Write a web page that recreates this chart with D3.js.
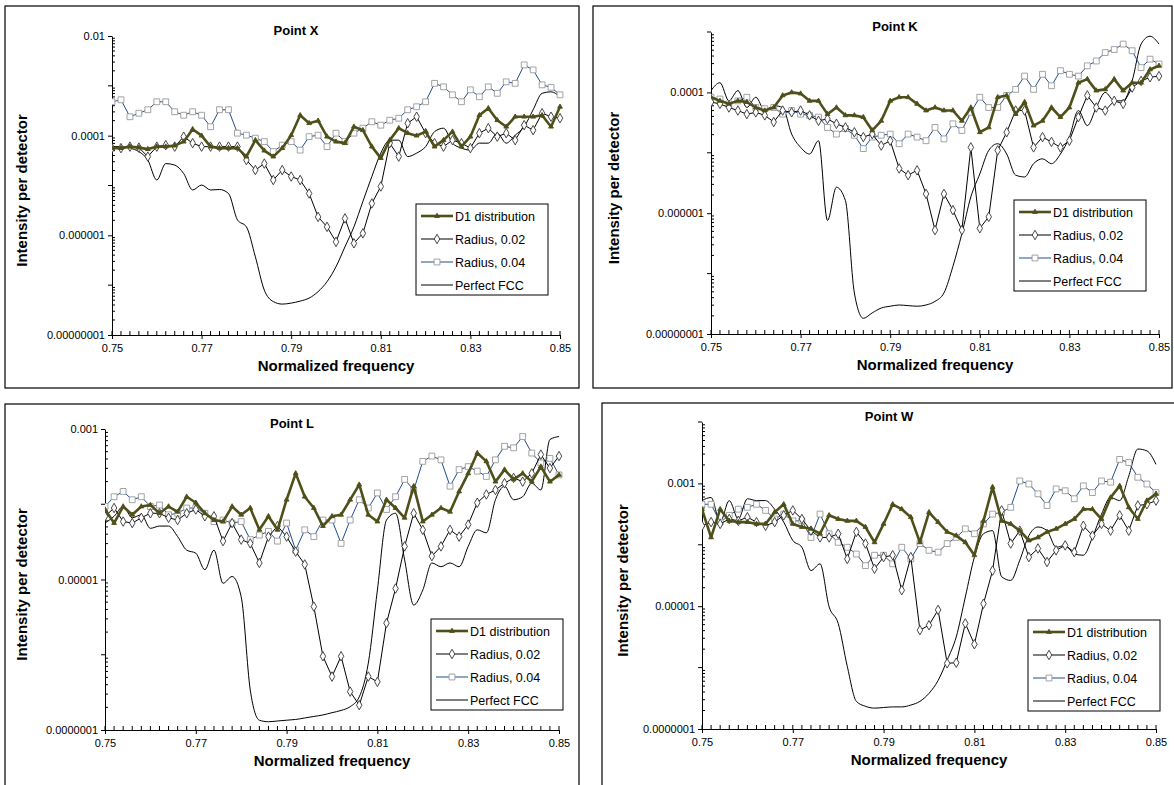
<!DOCTYPE html>
<html>
<head>
<meta charset="utf-8">
<script src="https://cdn.jsdelivr.net/npm/d3@7"></script>
<style>
  body { margin: 0; background: #fff; }
  svg { font-family: "Liberation Sans", Arial, sans-serif; }
</style>
</head>
<body>
<svg id="chart" width="1174" height="785"></svg>
<script>
// normalized frequency grid
const freq = [0.750,0.752,0.754,0.756,0.758,0.760,0.762,0.764,0.766,0.768,
  0.770,0.772,0.774,0.776,0.778,0.780,0.782,0.784,0.786,0.788,
  0.790,0.792,0.794,0.796,0.798,0.800,0.802,0.804,0.806,0.808,
  0.810,0.812,0.814,0.816,0.818,0.820,0.822,0.824,0.826,0.828,
  0.830,0.832,0.834,0.836,0.838,0.840,0.842,0.844,0.846,0.848,0.850];
const xTicks = [0.75, 0.77, 0.79, 0.81, 0.83, 0.85];
const seriesNames = ['D1 distribution', 'Radius, 0.02', 'Radius, 0.04', 'Perfect FCC'];

// values stored as log10(intensity per detector)
const xD1 = [-4.25,-4.25,-4.22,-4.24,-4.27,-4.22,-4.22,-4.2,-4.12,-3.87,-4.0,-4.22,-4.25,-4.25,-4.25,-4.42,-4.09,-4.3,-4.42,-4.25,
  -3.99,-3.59,-3.75,-3.7,-4.02,-4.12,-4.15,-3.82,-3.89,-4.22,-4.45,-4.09,-3.85,-3.95,-4.0,-3.92,-4.22,-4.09,-3.92,-4.22,
  -4.02,-3.59,-3.45,-3.69,-3.82,-3.62,-3.62,-3.62,-3.59,-3.82,-3.42];
const xR02 = [-4.25,-4.25,-4.22,-4.24,-4.42,-4.22,-4.19,-4.22,-4.02,-4.15,-4.22,-4.22,-4.22,-4.22,-4.22,-4.49,-4.69,-4.56,-4.89,-4.69,
  -4.82,-4.89,-5.16,-5.63,-5.83,-6.13,-5.66,-6.16,-5.96,-5.36,-5.02,-4.15,-4.42,-3.75,-3.62,-3.95,-4.15,-4.22,-4.09,-4.15,
  -4.25,-3.95,-3.85,-4.02,-3.95,-4.09,-3.79,-3.89,-3.55,-3.62,-3.65];
const xR04 = [-3.32,-3.28,-3.62,-3.55,-3.48,-3.32,-3.32,-3.52,-3.59,-3.52,-3.59,-3.82,-3.48,-3.48,-3.95,-3.99,-4.05,-4.12,-4.32,-4.19,
  -4.12,-4.29,-4.02,-3.99,-4.22,-3.95,-4.12,-3.95,-3.85,-3.72,-3.79,-3.69,-3.65,-3.48,-3.42,-3.32,-2.95,-3.02,-3.18,-3.32,
  -3.08,-3.22,-3.02,-3.15,-2.92,-2.95,-2.58,-2.68,-2.98,-3.03,-3.18];
const xFCC = [-4.22,-4.22,-4.25,-4.32,-4.49,-4.89,-4.56,-4.59,-4.76,-5.09,-4.99,-5.09,-5.08,-5.16,-5.69,-5.83,-6.43,-7.10,-7.33,-7.38,
  -7.36,-7.32,-7.26,-7.13,-6.93,-6.63,-6.23,-5.83,-5.32,-4.82,-4.35,-4.09,-4.09,-4.42,-4.35,-4.22,-3.92,-3.85,-4.15,-4.25,
  -4.29,-4.15,-4.15,-3.95,-4.15,-3.99,-3.82,-3.48,-3.15,-3.12,-3.22];

const kD1 = [-4.08,-4.14,-4.19,-4.14,-4.16,-4.25,-4.30,-4.25,-4.05,-4.0,-4.02,-4.14,-4.14,-4.36,-4.25,-4.38,-4.38,-4.41,-4.63,-4.47,
  -4.14,-4.08,-4.08,-4.19,-4.30,-4.25,-4.30,-4.30,-4.47,-4.25,-4.66,-4.58,-4.08,-4.05,-4.36,-4.16,-4.55,-4.47,-4.25,-4.41,
  -4.25,-3.84,-3.78,-3.97,-3.95,-3.78,-3.97,-3.84,-3.84,-3.62,-3.56];
const kR02 = [-4.16,-4.19,-4.25,-4.30,-4.36,-4.33,-4.38,-4.49,-4.30,-4.33,-4.30,-4.38,-4.47,-4.44,-4.52,-4.58,-4.66,-4.74,-4.69,-4.88,
  -4.80,-5.26,-5.37,-5.29,-5.68,-6.28,-5.68,-5.95,-6.28,-4.91,-6.25,-6.06,-4.96,-4.66,-4.30,-4.30,-4.91,-4.74,-4.82,-4.91,
  -4.80,-4.41,-4.05,-4.25,-4.30,-4.14,-4.19,-3.92,-3.81,-3.75,-3.73];
const kR04 = [-4.08,-4.11,-4.19,-4.14,-4.08,-4.25,-4.27,-4.25,-4.36,-4.30,-4.36,-4.38,-4.41,-4.58,-4.69,-4.60,-4.71,-4.93,-4.74,-4.71,
  -4.69,-4.85,-4.69,-4.74,-4.80,-4.58,-4.77,-4.52,-4.63,-4.33,-4.08,-4.25,-4.25,-4.05,-3.95,-3.73,-3.95,-3.70,-3.89,-3.64,
  -3.70,-3.73,-3.56,-3.48,-3.34,-3.29,-3.20,-3.31,-3.59,-3.45,-3.53];
const kFCC = [-3.97,-3.84,-4.14,-3.97,-4.25,-4.08,-4.30,-4.22,-4.25,-4.69,-4.91,-5.02,-4.80,-6.12,-5.57,-5.79,-7.32,-7.74,-7.65,-7.57,
  -7.54,-7.52,-7.53,-7.54,-7.52,-7.46,-7.32,-6.88,-6.34,-5.73,-5.35,-4.96,-4.85,-5.02,-5.37,-5.40,-5.18,-5.10,-5.18,-5.02,
  -4.74,-4.30,-4.55,-4.25,-4.0,-4.14,-4.14,-3.81,-3.20,-3.07,-3.20];

const lD1 = [-4.07,-4.25,-4.03,-4.14,-4.03,-4.01,-4.12,-4.03,-4.10,-3.90,-3.98,-4.12,-4.21,-4.23,-4.03,-4.14,-4.05,-4.34,-4.16,-4.34,
  -3.94,-3.59,-3.90,-4.05,-4.29,-4.16,-4.14,-3.94,-3.74,-4.14,-4.23,-3.94,-4.05,-4.18,-3.76,-4.23,-4.14,-4.05,-4.10,-3.83,
  -3.59,-3.32,-3.43,-3.70,-3.54,-3.67,-3.59,-3.70,-3.50,-3.70,-3.61];
const lR02 = [-4.16,-4.05,-4.23,-4.25,-4.18,-4.12,-4.12,-4.18,-4.21,-4.12,-4.07,-4.16,-4.16,-4.49,-4.25,-4.47,-4.52,-4.78,-4.43,-4.29,
  -4.43,-4.63,-4.80,-5.36,-6.02,-6.29,-6.02,-6.49,-6.67,-6.29,-6.36,-5.58,-5.12,-4.56,-4.12,-4.34,-4.69,-4.56,-4.34,-4.43,
  -4.27,-3.98,-3.87,-3.81,-3.72,-3.65,-3.70,-3.59,-3.34,-3.52,-3.36];
const lR04 = [-4.03,-3.90,-3.83,-3.94,-3.90,-4.03,-4.01,-4.14,-4.12,-4.05,-4.05,-4.12,-4.23,-4.21,-4.25,-4.23,-4.47,-4.41,-4.36,-4.49,
  -4.25,-4.61,-4.34,-4.43,-4.21,-4.21,-4.52,-4.21,-3.94,-4.05,-3.85,-4.07,-3.90,-3.67,-3.81,-3.43,-3.36,-3.41,-3.76,-3.54,
  -3.50,-3.56,-3.63,-3.41,-3.23,-3.25,-3.10,-3.32,-3.45,-3.39,-3.61];
const lFCC = [-4.25,-4.16,-4.03,-4.18,-4.14,-4.32,-4.29,-4.29,-4.43,-4.61,-4.65,-4.87,-4.61,-5.05,-4.96,-5.23,-6.47,-6.87,-6.89,-6.88,
  -6.87,-6.86,-6.84,-6.82,-6.80,-6.77,-6.74,-6.69,-6.56,-6.11,-5.14,-4.21,-4.12,-4.74,-5.34,-5.14,-4.78,-4.83,-4.78,-4.83,
  -4.56,-4.34,-4.38,-3.94,-3.76,-3.94,-3.90,-3.72,-3.81,-3.14,-3.10];

const wD1 = [-3.42,-3.88,-3.42,-3.61,-3.63,-3.63,-3.66,-3.66,-3.47,-3.34,-3.66,-3.71,-3.74,-3.82,-3.52,-3.58,-3.61,-3.61,-3.71,-3.96,
  -3.66,-3.34,-3.42,-3.55,-3.96,-3.47,-3.63,-3.79,-3.85,-3.96,-4.17,-3.61,-3.06,-3.61,-3.66,-3.77,-3.93,-3.88,-3.79,-3.74,
  -3.66,-3.58,-3.42,-3.42,-3.58,-3.23,-3.04,-3.39,-3.58,-3.28,-3.17];
const wR02 = [-3.69,-3.63,-3.66,-3.58,-3.61,-3.55,-3.63,-3.69,-3.63,-3.52,-3.44,-3.58,-3.77,-3.88,-3.88,-3.82,-4.23,-3.79,-3.98,-4.39,
  -4.20,-4.17,-4.74,-4.20,-5.39,-5.31,-5.06,-5.93,-5.92,-5.28,-5.62,-4.96,-4.42,-3.44,-3.98,-3.77,-4.20,-4.06,-4.28,-4.09,
  -4.01,-4.12,-3.69,-3.85,-3.66,-3.77,-3.52,-3.77,-3.36,-3.34,-3.28];
const wR04 = [-3.34,-3.34,-3.63,-3.52,-3.42,-3.39,-3.34,-3.44,-3.58,-3.50,-3.61,-3.61,-3.88,-3.50,-3.82,-3.96,-4.04,-4.15,-4.34,-4.17,
  -4.17,-4.31,-4.04,-4.23,-3.98,-4.09,-4.12,-3.98,-3.88,-3.74,-3.82,-3.66,-3.50,-3.47,-3.39,-2.96,-3.01,-3.17,-3.36,-3.09,
  -3.12,-3.25,-3.04,-3.15,-2.96,-2.98,-2.61,-2.66,-2.90,-3.01,-3.15];
const wFCC = [-3.28,-3.23,-3.63,-3.28,-3.58,-3.25,-3.28,-3.28,-3.42,-3.63,-3.93,-4.04,-4.42,-4.31,-5.01,-5.28,-5.98,-6.55,-6.63,-6.66,
  -6.65,-6.64,-6.64,-6.61,-6.55,-6.42,-6.21,-5.88,-5.50,-4.85,-4.20,-3.82,-3.77,-4.52,-4.58,-4.25,-3.85,-3.71,-3.77,-4.04,
  -4.01,-4.15,-4.17,-3.88,-3.50,-3.23,-3.28,-2.88,-2.44,-2.47,-2.69];

const panels = [
  { title: 'Point X', box: [5, 6, 574, 382], plot: [112, 36, 560, 335], yDomain: [1e-8, 1e-2],
    yLabels: [1e-8, 1e-6, 1e-4, 1e-2], legend: [416, 204], data: [xD1, xR02, xR04, xFCC], showTopAxis: true },
  { title: 'Point K', box: [593, 6, 579, 382], plot: [711, 32, 1159, 334], yDomain: [1e-8, 1e-3],
    yLabels: [1e-8, 1e-6, 1e-4], legend: [1014, 200], data: [kD1, kR02, kR04, kFCC] },
  { title: 'Point L', box: [5, 404, 574, 385], plot: [105, 429, 559, 730], yDomain: [1e-7, 1e-3],
    yLabels: [1e-7, 1e-5, 1e-3], legend: [431, 619], data: [lD1, lR02, lR04, lFCC] },
  { title: 'Point W', box: [602, 403, 575, 385], plot: [702, 422, 1156, 729], yDomain: [1e-7, 1e-2],
    yLabels: [1e-7, 1e-5, 1e-3], legend: [1028, 620], data: [wD1, wR02, wR04, wFCC] }
];

const styles = [
  { stroke: '#4f4f1a', width: 2.6, marker: 'triangle', mstroke: '#4f4f1a', mfill: '#4f4f1a', msize: 10 },
  { stroke: '#000', width: 1, marker: 'diamond', mstroke: '#333', mfill: '#fff', msize: 26 },
  { stroke: '#1f4e8c', width: 1, marker: 'square', mstroke: '#999', mfill: '#fff', msize: 34 },
  { stroke: '#000', width: 1, marker: null }
];
const drawOrder = [3, 2, 1, 0];
const symbolType = { triangle: d3.symbolTriangle, diamond: d3.symbolDiamond, square: d3.symbolSquare };

const svg = d3.select('#chart');
const fmt = v => {
  const e = Math.round(Math.log10(v));
  return e >= 0 ? String(v) : '0.' + '0'.repeat(-e - 1) + '1';
};

panels.forEach((p, pi) => {
  const g = svg.append('g');
  g.append('rect').attr('x', p.box[0]).attr('y', p.box[1]).attr('width', p.box[2]).attr('height', p.box[3])
    .attr('fill', 'none').attr('stroke', '#000').attr('stroke-width', 1.2);

  const [x0, y0, x1, y1] = p.plot;
  const x = d3.scaleLinear().domain([0.75, 0.85]).range([x0, x1]);
  const y = d3.scaleLog().domain(p.yDomain).range([y1, y0]);

  const clipId = 'clip' + pi;
  g.append('clipPath').attr('id', clipId).append('rect')
    .attr('x', x0).attr('y', y0 - 2).attr('width', x1 - x0 + 4).attr('height', y1 - y0 + 2);

  // y axis: minor ticks inside, major ticks outside
  const yAxis = d3.axisLeft(y).tickValues(p.yLabels).tickFormat(fmt).tickSize(4).tickSizeOuter(0);
  const ya = g.append('g').attr('transform', `translate(${x0},0)`).call(yAxis);
  ya.select('.domain').attr('stroke', '#000');
  ya.selectAll('text').attr('font-size', 11).attr('fill', '#000');
  const minor = y.ticks().filter(v => !p.yLabels.includes(v));
  g.append('g').selectAll('line').data(minor).join('line')
    .attr('x1', x0).attr('x2', d => Number.isInteger(Math.log10(d)) ? x0 - 4 : x0 + 3)
    .attr('y1', d => y(d)).attr('y2', d => y(d)).attr('stroke', '#000');

  // x axis
  const xa = g.append('g').attr('transform', `translate(0,${y1})`)
    .call(d3.axisBottom(x).tickValues(xTicks).tickFormat(d3.format('.2f')).tickSize(4).tickSizeOuter(0));
  xa.select('.domain').attr('stroke', '#000');
  xa.selectAll('text').attr('font-size', 11).attr('fill', '#000').attr('dy', '0.9em');
  g.append('g').selectAll('line').data(freq).join('line')
    .attr('x1', d => x(d)).attr('x2', d => x(d)).attr('y1', y1).attr('y2', y1 - 4).attr('stroke', '#000');

  const plotG = g.append('g').attr('clip-path', `url(#${clipId})`);
  drawOrder.forEach(si => {
    const s = styles[si];
    const vals = p.data[si].map((v, i) => ({ f: freq[i], v: Math.pow(10, v) }));
    const line = d3.line().x(d => x(d.f)).y(d => y(d.v));
    if (!s.marker) line.curve(d3.curveMonotoneX);
    plotG.append('path').datum(vals).attr('d', line).attr('fill', 'none')
      .attr('stroke', s.stroke).attr('stroke-width', s.width).attr('stroke-linejoin', 'round');
    if (s.marker) {
      plotG.selectAll(null).data(vals).join('path')
        .attr('transform', d => `translate(${x(d.f)},${y(d.v)})`)
        .attr('d', d3.symbol().type(symbolType[s.marker]).size(s.msize))
        .attr('fill', s.mfill).attr('stroke', s.mstroke).attr('stroke-width', 0.9);
    }
  });

  // titles
  g.append('text').attr('x', (x0 + x1) / 2 - 40).attr('y', y0 - 1).attr('text-anchor', 'middle')
    .attr('font-size', 13).attr('font-weight', 'bold').text(p.title);
  g.append('text').attr('x', (x0 + x1) / 2).attr('y', y1 + 36).attr('text-anchor', 'middle')
    .attr('font-size', 15).attr('font-weight', 'bold').text('Normalized frequency');
  g.append('text').attr('transform', `translate(${p.box[0] + (pi % 2 ? 26 : 22)},${(y0 + y1) / 2 + 5}) rotate(-90)`)
    .attr('text-anchor', 'middle').attr('font-size', 15).attr('font-weight', 'bold').text('Intensity per detector');

  // legend
  const [lx, ly] = p.legend;
  const lg = g.append('g').attr('transform', `translate(${lx},${ly})`);
  lg.append('rect').attr('width', 132).attr('height', 91).attr('fill', '#fff').attr('stroke', '#000');
  seriesNames.forEach((name, i) => {
    const s = styles[i];
    const yy = 12 + i * 23;
    lg.append('line').attr('x1', 5).attr('x2', 37).attr('y1', yy).attr('y2', yy)
      .attr('stroke', s.stroke).attr('stroke-width', s.width);
    if (s.marker) {
      lg.append('path').attr('transform', `translate(21,${yy})`)
        .attr('d', d3.symbol().type(symbolType[s.marker]).size(s.msize))
        .attr('fill', s.mfill).attr('stroke', s.mstroke).attr('stroke-width', 0.9);
    }
    lg.append('text').attr('x', 39).attr('y', yy + 4.5).attr('font-size', 12.5).text(name);
  });
});
</script>
</body>
</html>
